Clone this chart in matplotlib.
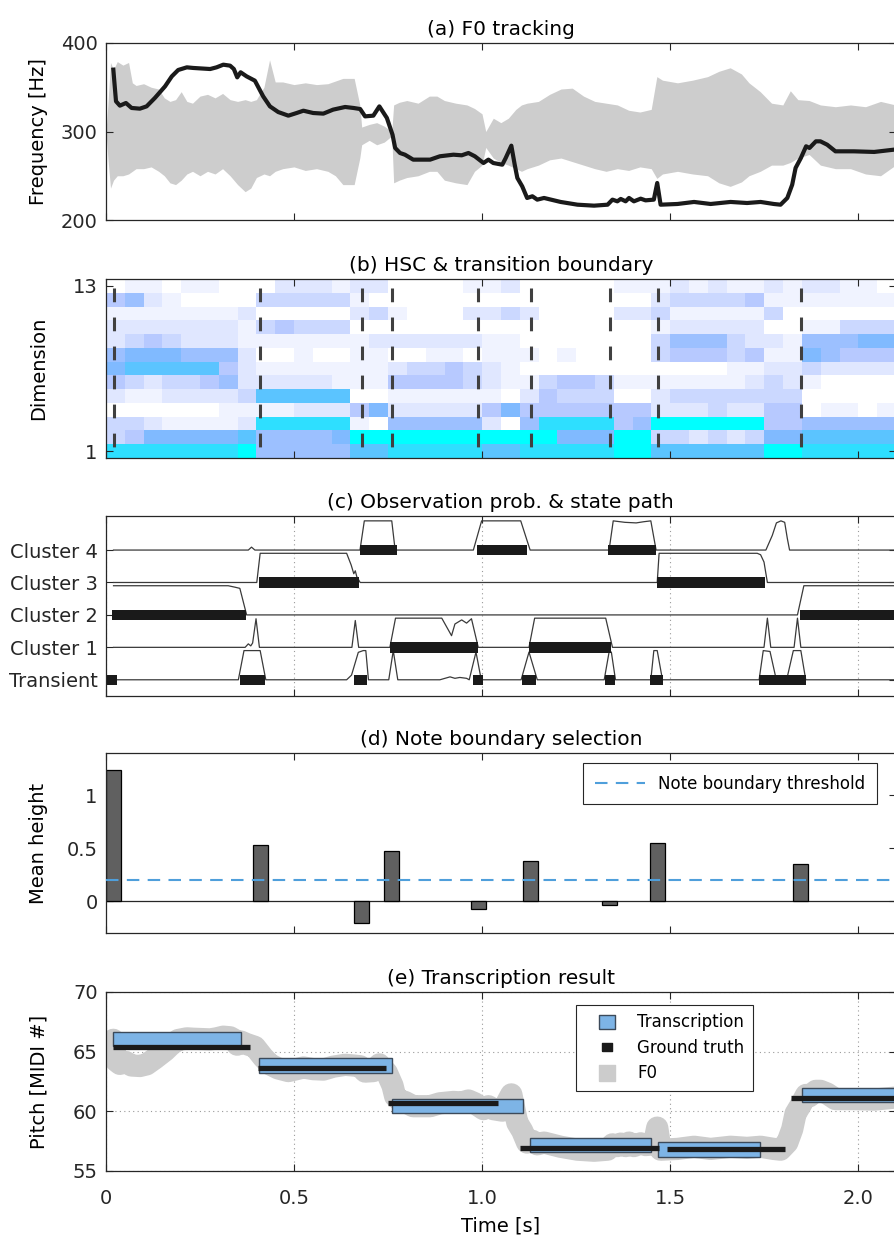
import numpy as np
import matplotlib
matplotlib.use("Agg")
import matplotlib.pyplot as plt
from matplotlib.colors import LinearSegmentedColormap
from matplotlib.lines import Line2D

# ---------------- data ----------------
# (a) F0 track [s, Hz]
f0_t = [0.0195, 0.0266, 0.037, 0.053, 0.068, 0.090, 0.108, 0.130, 0.157, 0.175, 0.192, 0.215,
        0.232, 0.277, 0.294, 0.312, 0.330, 0.340, 0.349, 0.358, 0.374, 0.396, 0.418, 0.436,
        0.458, 0.485, 0.507, 0.525, 0.551, 0.578, 0.604, 0.636, 0.658, 0.676, 0.689, 0.711,
        0.727, 0.747, 0.762, 0.769, 0.782, 0.795, 0.817, 0.862, 0.888, 0.924, 0.946, 0.964,
        0.981, 1.004, 1.017, 1.030, 1.054, 1.063, 1.078, 1.087, 1.094, 1.107, 1.120, 1.134,
        1.147, 1.165, 1.209, 1.254, 1.298, 1.334, 1.347, 1.360, 1.369, 1.382, 1.391, 1.404,
        1.422, 1.435, 1.457, 1.466, 1.475, 1.520, 1.564, 1.608, 1.661, 1.705, 1.741, 1.776,
        1.794, 1.812, 1.825, 1.834, 1.848, 1.862, 1.871, 1.888, 1.900, 1.918, 1.940, 1.989,
        2.043, 2.096]
f0_hz = [369.9, 334.1, 329.2, 332.2, 326.6, 325.8, 328.4, 337.9, 351.0, 362.3, 369.5, 372.5,
         371.8, 370.6, 372.5, 375.5, 374.4, 370.6, 361.2, 366.9, 362.3, 357.4, 339.7, 328.4,
         322.0, 317.9, 320.9, 323.5, 320.9, 320.2, 324.7, 327.7, 326.6, 325.4, 317.1, 317.9,
         328.4, 315.3, 296.4, 281.4, 275.7, 273.8, 268.2, 268.2, 272.0, 273.8, 273.1, 275.7,
         272.0, 264.4, 268.2, 264.4, 262.5, 270.0, 284.0, 262.5, 247.5, 238.0, 224.9, 226.8,
         223.0, 224.9, 220.4, 217.3, 216.2, 217.3, 223.0, 221.1, 223.8, 221.1, 224.9, 221.1,
         224.1, 222.2, 223.0, 241.8, 217.3, 218.1, 220.4, 218.1, 220.4, 219.2, 220.4, 218.1,
         217.3, 224.9, 239.9, 258.8, 270.0, 283.3, 281.4, 288.9, 288.9, 285.1, 277.6, 277.6,
         276.9, 279.5]

# (a) waveform envelope (drawn around 300 Hz)
wave_t = [0.000, 0.005, 0.012, 0.020, 0.030, 0.045, 0.060, 0.070, 0.080, 0.100, 0.120, 0.140,
          0.155, 0.170, 0.185, 0.200, 0.215, 0.230, 0.250, 0.270, 0.290, 0.310, 0.330, 0.350,
          0.370, 0.385, 0.400, 0.420, 0.435, 0.450, 0.470, 0.500, 0.530, 0.560, 0.590, 0.610,
          0.630, 0.660, 0.675, 0.680, 0.700, 0.720, 0.740, 0.760, 0.765, 0.780, 0.800, 0.830,
          0.860, 0.880, 0.900, 0.930, 0.960, 0.980, 1.000, 1.010, 1.030, 1.050, 1.070, 1.090,
          1.105, 1.120, 1.150, 1.180, 1.210, 1.240, 1.270, 1.300, 1.330, 1.360, 1.390, 1.420,
          1.450, 1.465, 1.480, 1.520, 1.560, 1.600, 1.630, 1.660, 1.690, 1.710, 1.740, 1.770,
          1.800, 1.820, 1.840, 1.870, 1.900, 1.940, 1.980, 2.020, 2.060, 2.100]
wave_hi = [300, 330, 378, 370, 379, 375, 378, 355, 352, 354, 350, 348,
           338, 334, 336, 345, 334, 332, 340, 342, 338, 343, 336, 334,
           336, 334, 336, 350, 381, 356, 356, 353, 355, 353, 354, 357,
           360, 360, 330, 305, 308, 310, 306, 300, 330, 333, 335, 332,
           340, 340, 335, 332, 330, 326, 320, 300, 315, 310, 315, 325,
           330, 332, 334, 342, 348, 349, 340, 334, 332, 330, 324, 322,
           325, 362, 358, 355, 358, 362, 368, 372, 365, 355, 345, 332,
           330, 346, 336, 335, 330, 328, 330, 328, 334, 330]
wave_lo = [300, 270, 236, 245, 250, 250, 252, 255, 258, 258, 260, 255,
           250, 242, 240, 245, 252, 255, 250, 255, 252, 258, 250, 240,
           232, 236, 248, 252, 250, 255, 258, 260, 256, 258, 255, 250,
           240, 240, 270, 285, 290, 285, 288, 295, 242, 245, 248, 250,
           255, 255, 245, 242, 240, 255, 262, 282, 270, 265, 262, 258,
           255, 258, 262, 268, 270, 266, 262, 258, 255, 258, 256, 260,
           258, 247, 252, 255, 252, 250, 242, 238, 243, 250, 255, 262,
           262, 265, 270, 274, 262, 258, 258, 252, 250, 262]

# (b) HSC, 13 dims x 42 frames of 50 ms (levels 0-9), dimension 13 first
hsc_rows = [
    "011011000222122000011" + "200000111212112122110",
    "452100003333310000000" + "000000002333341111111",
    "111111120000023100022" + "320000223111113000000",
    "222222213433300000000" + "000000001222220011333",
    "234322211111112222221" + "100000003555322155566",
    "566655520010011001101" + "110100003444341165444",
    "677777421111111233432" + "100000000000112232222",
    "432334522222111444432" + "113443111111123210000",
    "211222237777700111111" + "024333002333333300000",
    "000000111122246222224" + "644444442223224401101",
    "332111128888810555552" + "058888459999994455555",
    "346666675555699999999" + "999666993323236677777",
    "888888895555577888887" + "788888997777779988888",
]
frame_len = 0.05
boundaries = [0.02, 0.41, 0.68, 0.76, 0.99, 1.13, 1.34, 1.468, 1.848]

# (c) observation probabilities (t, p) and Viterbi state path
states = ["Transient", "Cluster 1", "Cluster 2", "Cluster 3", "Cluster 4"]
prob_transient = [(0.02, 0), (0.352, 0), (0.367, 1), (0.41, 1), (0.425, 0), (0.64, 0), (0.653, 0.16),
                  (0.671, 0.94), (0.684, 1), (0.691, 1), (0.698, 0), (0.752, 0), (0.764, 1),
                  (0.776, 0), (0.888, 0), (0.915, 0.1), (0.928, 0.05), (0.941, 0.08), (0.959, 0.05),
                  (0.966, 0), (0.984, 0.95), (0.998, 0), (1.104, 0), (1.125, 0.95), (1.147, 0),
                  (1.325, 0), (1.338, 0.95), (1.344, 0.95), (1.355, 0), (1.449, 0), (1.457, 1),
                  (1.466, 1), (1.48, 0), (1.737, 0), (1.748, 1), (1.766, 0.97), (1.781, 0.1),
                  (1.812, 0.1), (1.828, 1), (1.848, 1), (1.861, 0), (2.1, 0)]
prob_cluster1 = [(0.02, 0), (0.37, 0), (0.3785, 0.12), (0.385, 0.05), (0.39, 0.15), (0.399, 0.98),
                 (0.408, 0), (0.654, 0), (0.663, 0.92), (0.672, 0), (0.755, 0), (0.770, 1),
                 (0.893, 1), (0.919, 0.4), (0.928, 0.8), (0.946, 0.94), (0.959, 0.83), (0.972, 0.98),
                 (0.990, 0), (1.125, 0), (1.140, 1), (1.329, 1), (1.347, 0), (1.75, 0), (1.759, 1),
                 (1.768, 0), (1.830, 0), (1.839, 1), (1.848, 0), (2.1, 0)]
prob_cluster2 = [(0.02, 1), (0.325, 1), (0.343, 0.95), (0.356, 0.91), (0.374, 0), (1.839, 0),
                 (1.856, 1), (2.1, 1)]
prob_cluster3 = [(0.02, 0), (0.401, 0), (0.410, 1), (0.640, 1), (0.652, 0.6), (0.659, 0.3),
                 (0.663, 0.4), (0.667, 0.2), (0.676, 0), (1.466, 0), (1.471, 1), (1.732, 1),
                 (1.741, 0.95), (1.750, 0.7), (1.759, 0), (2.1, 0)]
prob_cluster4 = [(0.02, 0), (0.3785, 0), (0.387, 0.1), (0.396, 0), (0.6755, 0), (0.687, 1),
                 (0.760, 1), (0.769, 0), (0.977, 0), (0.999, 1), (1.103, 1), (1.128, 0),
                 (1.338, 0), (1.349, 1), (1.38, 0.95), (1.41, 0.93), (1.43, 0.97), (1.449, 1),
                 (1.463, 0), (1.755, 0), (1.772, 0.5), (1.783, 0.93), (1.795, 1), (1.805, 0.95),
                 (1.812, 0.4), (1.818, 0), (2.1, 0)]
state_path = [(0, 0.0035, 0.030), (2, 0.016, 0.372), (0, 0.356, 0.423), (3, 0.408, 0.672),
              (0, 0.660, 0.695), (4, 0.6755, 0.773), (1, 0.755, 0.990), (0, 0.975, 1.002),
              (4, 0.986, 1.1205), (0, 1.107, 1.143), (1, 1.125, 1.342), (0, 1.327, 1.353),
              (4, 1.336, 1.463), (0, 1.447, 1.4805), (3, 1.466, 1.752), (0, 1.737, 1.861),
              (2, 1.846, 2.11)]

# (d) mean height at each candidate boundary
mean_height = [1.24, 0.53, -0.21, 0.47, -0.07, 0.38, -0.035, 0.55, 0.35]
threshold = 0.2

# (e) transcription vs ground truth [onset, offset, pitch]
trans_on = [0.018, 0.408, 0.760, 1.128, 1.469, 1.850]
trans_off = [0.360, 0.760, 1.110, 1.450, 1.739, 2.120]
trans_pitch = [66.07, 63.83, 60.47, 57.16, 56.80, 61.38]
gt_on = [0.018, 0.405, 0.751, 1.101, 1.492, 1.821]
gt_off = [0.382, 0.745, 1.042, 1.472, 1.807, 2.120]
gt_pitch = [65.37, 63.60, 60.66, 56.94, 56.88, 61.08]

x_ticks = [0, 0.5, 1.0, 1.5, 2.0]
x_tick_labels = ["0", "0.5", "1.0", "1.5", "2.0"]

# ---------------- styling ----------------
plt.rcParams['font.family'] = ['DejaVu Sans']
plt.rcParams['font.size'] = 14
AXC = '#262626'
plt.rcParams['axes.edgecolor'] = AXC
plt.rcParams['axes.linewidth'] = 0.9
plt.rcParams['xtick.color'] = AXC
plt.rcParams['ytick.color'] = AXC

fig = plt.figure(figsize=(8.94, 12.39), dpi=100)
H = 1239.0
left = 106 / 894.0
width = 2.1 * 376 / 894.0
tops = [43, 279, 516, 753, 992]
bots = [220, 458, 696, 933, 1171]
axes = [fig.add_axes([left, 1 - b / H, width, (b - t) / H]) for t, b in zip(tops, bots)]
ax_a, ax_b, ax_c, ax_d, ax_e = axes
titles = ["(a) F0 tracking", "(b) HSC & transition boundary",
          "(c) Observation prob. & state path", "(d) Note boundary selection",
          "(e) Transcription result"]

for ax, ttl in zip(axes, titles):
    ax.set_xlim(0, 2.1)
    ax.set_xticks(x_ticks)
    ax.tick_params(direction='in', top=True, right=True, length=5, width=0.8,
                   labelsize=14, pad=6)
    ax.set_title(ttl, fontsize=14.5, pad=6, color='black')
    if ax is not ax_e:
        ax.set_xticklabels([])

# (a)
ax_a.fill_between(wave_t, wave_lo, wave_hi, color='#cdcdcd', lw=0)
ax_a.plot(f0_t, f0_hz, color='#1a1a1a', lw=3.0, solid_joinstyle='round')
ax_a.set_ylim(200, 400)
ax_a.set_yticks([200, 300, 400])
ax_a.set_ylabel("Frequency [Hz]", fontsize=14)

# (b)
cmap = LinearSegmentedColormap.from_list(
    "hsc", [(0, '#ffffff'), (0.2, '#e4eaff'), (0.45, '#b6c9ff'), (0.65, '#86b9ff'),
            (0.8, '#55c6ff'), (1.0, '#00ffff')])
hsc = np.array([[int(c) for c in row] for row in hsc_rows], dtype=float)
ax_b.imshow(hsc, cmap=cmap, vmin=0, vmax=9, aspect='auto', interpolation='nearest',
            extent=[0, len(hsc_rows[0]) * frame_len, 0.5, 13.5])
ax_b.vlines(boundaries, 12.85, 0.5, color='#404040', lw=2.2, linestyles=[(0, (4.5, 5))])
ax_b.set_xlim(0, 2.1)
ax_b.set_ylim(0.5, 13.5)
ax_b.set_yticks([1, 13])
ax_b.set_ylabel("Dimension", fontsize=14)

# (c)
probs = [prob_transient, prob_cluster1, prob_cluster2, prob_cluster3, prob_cluster4]
for k, pr in enumerate(probs):
    tt = [p[0] for p in pr]
    vv = [k + 0.9 * p[1] for p in pr]
    ax_c.plot(tt, vv, color='#3a3a3a', lw=0.9, zorder=2)
for s, on, off in state_path:
    ax_c.barh(s, off - on, left=on, height=0.32, color='#1a1a1a', zorder=3)
ax_c.set_ylim(-0.5, 5.05)
ax_c.set_yticks(range(len(states)))
ax_c.set_yticklabels(states)
ax_c.set_axisbelow(True)
ax_c.grid(axis='x', ls=(0, (1, 3)), color='#9a9a9a', lw=0.8)

# (d)
ax_d.axhline(0, color=AXC, lw=0.9, zorder=1)
ax_d.bar(boundaries, mean_height, width=0.04, color='#606060', edgecolor='black', lw=0.9,
         zorder=2)
ax_d.axhline(threshold, color='#4f9fdb', lw=1.5, ls=(0, (6, 4)), zorder=3,
             label="Note boundary threshold")
ax_d.set_ylim(-0.3, 1.4)
ax_d.set_yticks([0, 0.5, 1])
ax_d.set_yticklabels(["0", "0.5", "1"])
ax_d.set_ylabel("Mean height", fontsize=14)
leg_d = ax_d.legend(loc='upper right', bbox_to_anchor=(0.9765, 0.944), fontsize=12,
                    fancybox=False, framealpha=1, edgecolor=AXC, handlelength=3.0,
                    handletextpad=0.8, borderpad=0.7, borderaxespad=0)
leg_d.get_frame().set_linewidth(0.8)

# (e)
f0_midi = 69 + 12 * np.log2(np.array(f0_hz) / 440.0)
ax_e.plot(f0_t, f0_midi, color='#cccccc', lw=16, solid_capstyle='round',
          solid_joinstyle='round', zorder=2)
ax_e.bar(trans_on, [1.2] * len(trans_on), width=np.array(trans_off) - np.array(trans_on),
         bottom=np.array(trans_pitch) - 0.6, align='edge', color='#7db4e6',
         edgecolor='#3c4a5a', lw=1.0, zorder=3)
ax_e.hlines(gt_pitch, gt_on, gt_off, color='#1a1a1a', lw=3.8, zorder=4)
ax_e.set_ylim(55, 70)
ax_e.set_yticks([55, 60, 65, 70])
ax_e.set_xticklabels(x_tick_labels)
ax_e.tick_params(axis='x', pad=13)
ax_e.set_axisbelow(True)
ax_e.grid(True, ls=(0, (1, 3)), color='#9a9a9a', lw=0.8)
ax_e.set_ylabel("Pitch [MIDI #]", fontsize=14)
ax_e.set_xlabel("Time [s]", fontsize=14, labelpad=6)

rect_tr = [(-1, -0.82), (1, -0.82), (1, 0.82), (-1, 0.82), (-1, -0.82)]
rect_gt = [(-1, -0.8), (1, -0.8), (1, 0.8), (-1, 0.8), (-1, -0.8)]
rect_f0 = [(-1, -0.94), (1, -0.94), (1, 0.94), (-1, 0.94), (-1, -0.94)]
handles = [Line2D([], [], ls='none', marker=rect_tr, markersize=12.2,
                  markerfacecolor='#7db4e6', markeredgecolor='#3c4a5a', markeredgewidth=1.0),
           Line2D([], [], ls='none', marker=rect_gt, markersize=7.2,
                  markerfacecolor='#1a1a1a', markeredgecolor='#1a1a1a'),
           Line2D([], [], ls='none', marker=rect_f0, markersize=12.2,
                  markerfacecolor='#cccccc', markeredgecolor='#cccccc')]
leg_e = ax_e.legend(handles, ["Transcription", "Ground truth", "F0"], loc='upper right',
                    bbox_to_anchor=(0.819, 0.927), fontsize=12, fancybox=False,
                    framealpha=1, edgecolor=AXC, handlelength=2.8, numpoints=1,
                    handletextpad=0.4, borderpad=0.5, labelspacing=0.45, borderaxespad=0)
leg_e.get_frame().set_linewidth(0.8)

for ax in axes:
    ax.yaxis.set_label_coords(-0.073, 0.5)

fig.savefig("out.png", dpi=100)
